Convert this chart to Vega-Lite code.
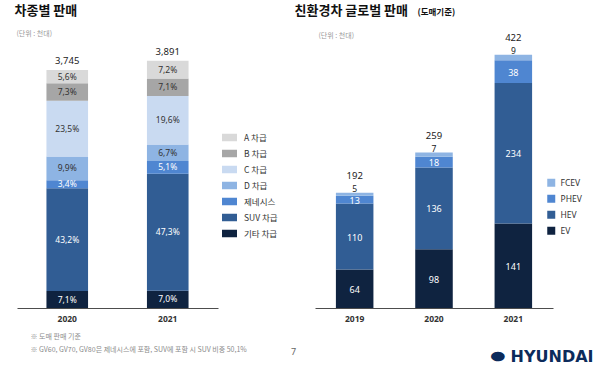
{
  "$schema": "https://vega.github.io/schema/vega-lite/v6.json",
  "padding": {"left": 14, "top": 4, "right": 0, "bottom": 0},
  "background": "white",
  "spacing": 97,
  "bounds": "flush",
  "resolve": {"scale": {"color": "independent"}, "legend": {"color": "independent"}},
  "config": {
    "view": {"stroke": null},
    "font": "Noto Sans CJK KR",
    "axis": {"grid": false, "ticks": false, "domainColor": "#4d4d4d", "domainWidth": 1}
  },
  "datasets": {
    "cls": [
      {"year": "2020", "cls": "기타 차급", "k": 1, "v": 265.9, "pct": "7,1%"},
      {"year": "2020", "cls": "SUV 차급", "k": 2, "v": 1617.8, "pct": "43,2%"},
      {"year": "2020", "cls": "제네시스", "k": 3, "v": 127.3, "pct": "3,4%"},
      {"year": "2020", "cls": "D 차급", "k": 4, "v": 370.8, "pct": "9,9%"},
      {"year": "2020", "cls": "C 차급", "k": 5, "v": 880.1, "pct": "23,5%"},
      {"year": "2020", "cls": "B 차급", "k": 6, "v": 273.4, "pct": "7,3%"},
      {"year": "2020", "cls": "A 차급", "k": 7, "v": 209.7, "pct": "5,6%"},
      {"year": "2021", "cls": "기타 차급", "k": 1, "v": 272.4, "pct": "7,0%"},
      {"year": "2021", "cls": "SUV 차급", "k": 2, "v": 1840.4, "pct": "47,3%"},
      {"year": "2021", "cls": "제네시스", "k": 3, "v": 198.4, "pct": "5,1%"},
      {"year": "2021", "cls": "D 차급", "k": 4, "v": 260.7, "pct": "6,7%"},
      {"year": "2021", "cls": "C 차급", "k": 5, "v": 762.6, "pct": "19,6%"},
      {"year": "2021", "cls": "B 차급", "k": 6, "v": 276.3, "pct": "7,1%"},
      {"year": "2021", "cls": "A 차급", "k": 7, "v": 280.2, "pct": "7,2%"}
    ],
    "clsTot": [
      {"year": "2020", "total": 3745},
      {"year": "2021", "total": 3891}
    ],
    "eco": [
      {"year": "2019", "type": "EV", "k": 1, "v": 64},
      {"year": "2019", "type": "HEV", "k": 2, "v": 110},
      {"year": "2019", "type": "PHEV", "k": 3, "v": 13},
      {"year": "2019", "type": "FCEV", "k": 4, "v": 5},
      {"year": "2020", "type": "EV", "k": 1, "v": 98},
      {"year": "2020", "type": "HEV", "k": 2, "v": 136},
      {"year": "2020", "type": "PHEV", "k": 3, "v": 18},
      {"year": "2020", "type": "FCEV", "k": 4, "v": 7},
      {"year": "2021", "type": "EV", "k": 1, "v": 141},
      {"year": "2021", "type": "HEV", "k": 2, "v": 234},
      {"year": "2021", "type": "PHEV", "k": 3, "v": 38},
      {"year": "2021", "type": "FCEV", "k": 4, "v": 9}
    ],
    "ecoTot": [
      {"year": "2019", "total": 192, "fcev": 5},
      {"year": "2020", "total": 259, "fcev": 7},
      {"year": "2021", "total": 422, "fcev": 9}
    ]
  },
  "hconcat": [
    {
      "width": 201,
      "height": 267,
      "layer": [
        {
          "data": {"name": "cls"},
          "mark": {"type": "bar"},
          "encoding": {
            "x": {
              "field": "year", "type": "nominal",
              "scale": {"domain": ["2020", "2021"], "paddingInner": 0.586, "paddingOuter": 0.293},
              "axis": {
                "title": ["※ 도매 판매 기준", "※ GV60, GV70, GV80은 제네시스에 포함, SUV에 포함 시 SUV 비중 50,1%"],
                "labelAngle": 0, "labelFont": "Noto Sans", "labelFontWeight": "bold", "labelFontSize": 8.5,
                "labelColor": "#333333", "labelPadding": 6,
                "titleX": 13, "titleY": 24.5, "titleAlign": "left", "titleBaseline": "top",
                "titleFontSize": 7, "titleFontWeight": "normal", "titleColor": "#8c8c8c", "titleLineHeight": 13
              }
            },
            "y": {
              "field": "v", "type": "quantitative", "stack": "zero",
              "scale": {"domain": [0, 4200], "nice": false},
              "axis": {
                "title": "(단위 : 천대)", "labels": false, "domain": false,
                "titleAngle": 0, "titleX": -1, "titleY": -7.3, "titleAlign": "left", "titleBaseline": "middle",
                "titleFontSize": 7, "titleFontWeight": "normal", "titleColor": "#999999"
              }
            },
            "color": {
              "field": "cls", "type": "nominal",
              "scale": {
                "domain": ["A 차급", "B 차급", "C 차급", "D 차급", "제네시스", "SUV 차급", "기타 차급"],
                "range": ["#d9d9d9", "#a6a6a6", "#c9daf1", "#8eb4e3", "#4f86d1", "#315d94", "#0f2340"]
              },
              "legend": {
                "orient": "none", "legendX": 205, "legendY": 89, "title": null, "padding": 0,
                "symbolType": "M-1,-0.5H1V0.5H-1Z", "symbolSize": 225, "symbolStrokeWidth": 0,
                "labelFontSize": 8.5, "labelColor": "#333333", "labelOffset": 7, "rowPadding": 4
              }
            },
            "order": {"field": "k", "type": "quantitative"}
          }
        },
        {
          "data": {"name": "cls"},
          "mark": {"type": "text", "font": "Noto Sans", "fontSize": 8.5, "baseline": "middle"},
          "encoding": {
            "x": {"field": "year", "type": "nominal", "scale": {"domain": ["2020", "2021"], "paddingInner": 0.586, "paddingOuter": 0.293}, "axis": null},
            "y": {"field": "v", "type": "quantitative", "stack": "zero", "bandPosition": 0.5, "scale": {"domain": [0, 4200], "nice": false}, "axis": null},
            "detail": {"field": "cls"},
            "order": {"field": "k", "type": "quantitative"},
            "text": {"field": "pct"},
            "color": {"condition": {"test": "datum.k >= 4", "value": "#333333"}, "value": "#ffffff"}
          }
        },
        {
          "data": {"name": "clsTot"},
          "mark": {"type": "text", "font": "Noto Sans", "fontSize": 9.5, "baseline": "middle", "dy": -9, "color": "#222222"},
          "encoding": {
            "x": {
              "field": "year", "type": "nominal",
              "scale": {"domain": ["2020", "2021"], "paddingInner": 0.586, "paddingOuter": 0.293},
              "axis": {
                "orient": "top", "labels": false, "domain": false, "title": "차종별 판매",
                "titleX": -3, "titleY": -30.3, "titleAlign": "left", "titleBaseline": "middle",
                "titleFontSize": 13, "titleFontWeight": "bold", "titleColor": "#111111"
              }
            },
            "y": {
              "field": "total", "type": "quantitative",
              "scale": {"domain": [0, 4200], "nice": false},
              "axis": {
                "orient": "right", "labels": false, "domain": false, "title": "7",
                "titleAngle": 0, "titleX": 75, "titleY": 310.7, "titleAlign": "center", "titleBaseline": "middle",
                "titleFont": "Noto Sans", "titleFontSize": 9, "titleFontWeight": "normal", "titleColor": "#666666"
              }
            },
            "text": {"field": "total", "type": "quantitative", "format": ","}
          }
        }
      ],
      "resolve": {"scale": {"x": "independent", "y": "independent"}, "axis": {"x": "independent", "y": "independent"}}
    },
    {
      "width": 238,
      "height": 267,
      "layer": [
        {
          "data": {"name": "eco"},
          "mark": {"type": "bar"},
          "encoding": {
            "x": {
              "field": "year", "type": "nominal",
              "scale": {"domain": ["2019", "2020", "2021"], "paddingInner": 0.527, "paddingOuter": 0.2635},
              "axis": {
                "title": "⬬ HYUNDAI",
                "labelAngle": 0, "labelFont": "Noto Sans", "labelFontWeight": "bold", "labelFontSize": 8.5,
                "labelColor": "#333333", "labelPadding": 6,
                "titleX": 278, "titleY": 48.7, "titleAlign": "right", "titleBaseline": "middle",
                "titleFont": "DejaVu Sans", "titleFontSize": 16, "titleFontWeight": "bold", "titleColor": "#0c2b5b"
              }
            },
            "y": {
              "field": "v", "type": "quantitative", "stack": "zero",
              "scale": {"domain": [0, 445], "nice": false},
              "axis": {
                "title": "(단위 : 천대)", "labels": false, "domain": false,
                "titleAngle": 0, "titleX": 3, "titleY": -5.3, "titleAlign": "left", "titleBaseline": "middle",
                "titleFontSize": 7, "titleFontWeight": "normal", "titleColor": "#999999"
              }
            },
            "color": {
              "field": "type", "type": "nominal",
              "scale": {"domain": ["FCEV", "PHEV", "HEV", "EV"], "range": ["#8eb4e3", "#4f86d1", "#315d94", "#0f2340"]},
              "legend": {
                "orient": "none", "legendX": 232, "legendY": 137.5, "title": null, "padding": 0,
                "symbolType": "square", "symbolSize": 64, "symbolStrokeWidth": 0,
                "labelFont": "Noto Sans", "labelFontSize": 8.5, "labelColor": "#333333", "labelOffset": 5, "rowPadding": 7
              }
            },
            "order": {"field": "k", "type": "quantitative"}
          }
        },
        {
          "data": {"name": "eco"},
          "mark": {"type": "text", "font": "Noto Sans", "fontSize": 9, "baseline": "middle", "dy": 1},
          "encoding": {
            "x": {"field": "year", "type": "nominal", "scale": {"domain": ["2019", "2020", "2021"], "paddingInner": 0.527, "paddingOuter": 0.2635}, "axis": null},
            "y": {"field": "v", "type": "quantitative", "stack": "zero", "bandPosition": 0.5, "scale": {"domain": [0, 445], "nice": false}, "axis": null},
            "detail": {"field": "type"},
            "order": {"field": "k", "type": "quantitative"},
            "text": {"condition": {"test": "datum.k == 4", "value": ""}, "field": "v", "type": "quantitative"},
            "color": {"value": "#ffffff"}
          }
        },
        {
          "data": {"name": "ecoTot"},
          "mark": {"type": "text", "font": "Noto Sans", "fontSize": 8.5, "baseline": "middle", "color": "#222222", "dy": -3.5},
          "encoding": {
            "x": {"field": "year", "type": "nominal", "scale": {"domain": ["2019", "2020", "2021"], "paddingInner": 0.527, "paddingOuter": 0.2635}, "axis": null},
            "y": {"field": "total", "type": "quantitative", "scale": {"domain": [0, 445], "nice": false}, "axis": null},
            "text": {"field": "fcev", "type": "quantitative"}
          }
        },
        {
          "data": {"name": "ecoTot"},
          "mark": {"type": "text", "font": "Noto Sans", "fontSize": 9.5, "baseline": "middle", "dy": -17, "color": "#222222"},
          "encoding": {
            "x": {
              "field": "year", "type": "nominal",
              "scale": {"domain": ["2019", "2020", "2021"], "paddingInner": 0.527, "paddingOuter": 0.2635},
              "axis": {
                "orient": "top", "labels": false, "domain": false, "title": "친환경차 글로벌 판매",
                "titleX": -21, "titleY": -30.3, "titleAlign": "left", "titleBaseline": "middle",
                "titleFontSize": 13, "titleFontWeight": "bold", "titleColor": "#111111"
              }
            },
            "y": {
              "field": "total", "type": "quantitative",
              "scale": {"domain": [0, 445], "nice": false},
              "axis": {
                "orient": "right", "labels": false, "domain": false, "title": "(도매기준)",
                "titleAngle": 0, "titleX": -136, "titleY": -29.3, "titleAlign": "left", "titleBaseline": "middle",
                "titleFontSize": 8.5, "titleFontWeight": "bold", "titleColor": "#111111"
              }
            },
            "text": {"field": "total", "type": "quantitative"}
          }
        }
      ],
      "resolve": {"scale": {"x": "independent", "y": "independent"}, "axis": {"x": "independent", "y": "independent"}}
    }
  ]
}
